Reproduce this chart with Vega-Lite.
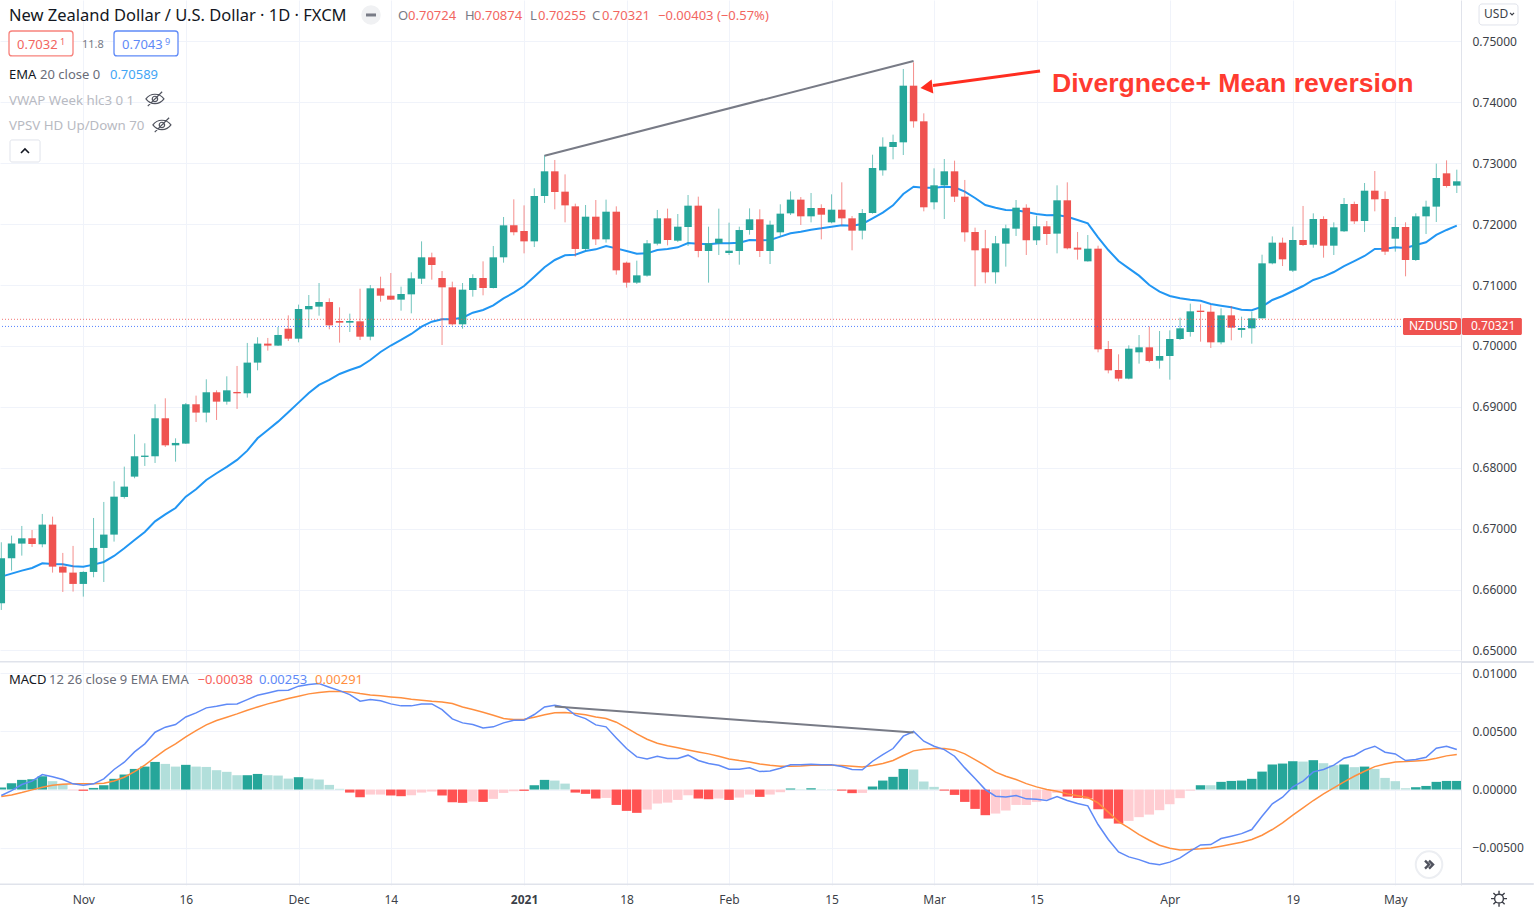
{"$schema":"https://vega.github.io/schema/vega-lite/v6.json","background":"white","padding":0,"spacing":0,
"config":{"view":{"stroke":null},"text":{"font":"Noto Sans","align":"left","baseline":"middle"}},
"datasets":{"bars":[
{"i":0,"open":0.65775,"high":0.66777,"low":0.65666,"close":0.66514,"ema":0.66213,"hist":0.00017,"shade":"gs","macd":-0.00051,"signal":-0.0006},
{"i":1,"open":0.66514,"high":0.66886,"low":0.66312,"close":0.66755,"ema":0.66262,"hist":0.00054,"shade":"gs","macd":-0.00009,"signal":-0.00046},
{"i":2,"open":0.66755,"high":0.67045,"low":0.66558,"close":0.66842,"ema":0.66312,"hist":0.00083,"shade":"gs","macd":0.00043,"signal":-0.00026},
{"i":3,"open":0.66842,"high":0.66979,"low":0.667,"close":0.66749,"ema":0.66355,"hist":0.00089,"shade":"gs","macd":0.00072,"signal":-0.00003},
{"i":4,"open":0.66744,"high":0.67242,"low":0.66695,"close":0.67067,"ema":0.66432,"hist":0.00114,"shade":"gs","macd":0.00129,"signal":0.0002},
{"i":5,"open":0.67067,"high":0.67198,"low":0.66279,"close":0.66377,"ema":0.66421,"hist":0.00072,"shade":"gf","macd":0.00109,"signal":0.00037},
{"i":6,"open":0.66377,"high":0.66602,"low":0.65961,"close":0.66279,"ema":0.66416,"hist":0.00049,"shade":"gf","macd":0.00086,"signal":0.00046},
{"i":7,"open":0.66279,"high":0.66717,"low":0.65967,"close":0.66093,"ema":0.66383,"hist":-0.00006,"shade":"rf","macd":0.00049,"signal":0.00049},
{"i":8,"open":0.66093,"high":0.663,"low":0.65885,"close":0.6629,"ema":0.66377,"hist":-0.00011,"shade":"rs","macd":0.00037,"signal":0.00049},
{"i":9,"open":0.6629,"high":0.67176,"low":0.66202,"close":0.66684,"ema":0.6641,"hist":0.00014,"shade":"gs","macd":0.00049,"signal":0.00049},
{"i":10,"open":0.66684,"high":0.67439,"low":0.66125,"close":0.66903,"ema":0.66454,"hist":0.00037,"shade":"gs","macd":0.00092,"signal":0.00054},
{"i":11,"open":0.66903,"high":0.67778,"low":0.66788,"close":0.67526,"ema":0.66552,"hist":0.00092,"shade":"gs","macd":0.00172,"signal":0.00074},
{"i":12,"open":0.67521,"high":0.68019,"low":0.67494,"close":0.67691,"ema":0.66678,"hist":0.00129,"shade":"gs","macd":0.00235,"signal":0.00106},
{"i":13,"open":0.67855,"high":0.6855,"low":0.67828,"close":0.68189,"ema":0.66815,"hist":0.00177,"shade":"gs","macd":0.00323,"signal":0.00154},
{"i":14,"open":0.68178,"high":0.68402,"low":0.6803,"close":0.682,"ema":0.66946,"hist":0.00197,"shade":"gs","macd":0.00392,"signal":0.00209},
{"i":15,"open":0.68189,"high":0.69043,"low":0.68079,"close":0.68813,"ema":0.67121,"hist":0.00237,"shade":"gs","macd":0.00492,"signal":0.00277},
{"i":16,"open":0.68813,"high":0.69141,"low":0.68342,"close":0.68369,"ema":0.67236,"hist":0.0022,"shade":"gf","macd":0.00535,"signal":0.0034},
{"i":17,"open":0.68369,"high":0.68484,"low":0.68101,"close":0.68408,"ema":0.6734,"hist":0.00197,"shade":"gf","macd":0.00558,"signal":0.00392},
{"i":18,"open":0.68397,"high":0.69064,"low":0.68391,"close":0.69043,"ema":0.67526,"hist":0.00212,"shade":"gs","macd":0.00623,"signal":0.00452},
{"i":19,"open":0.69043,"high":0.69185,"low":0.68752,"close":0.68906,"ema":0.67647,"hist":0.00197,"shade":"gf","macd":0.00658,"signal":0.00506},
{"i":20,"open":0.68906,"high":0.69453,"low":0.68747,"close":0.6924,"ema":0.678,"hist":0.00194,"shade":"gf","macd":0.00701,"signal":0.00555},
{"i":21,"open":0.6924,"high":0.69272,"low":0.68785,"close":0.69086,"ema":0.6791,"hist":0.00166,"shade":"gf","macd":0.00715,"signal":0.00592},
{"i":22,"open":0.69086,"high":0.69502,"low":0.69037,"close":0.69272,"ema":0.68014,"hist":0.00152,"shade":"gf","macd":0.00732,"signal":0.00621},
{"i":23,"open":0.69245,"high":0.69672,"low":0.68966,"close":0.69223,"ema":0.68129,"hist":0.00123,"shade":"gf","macd":0.00735,"signal":0.00649},
{"i":24,"open":0.69223,"high":0.7005,"low":0.69152,"close":0.69727,"ema":0.68282,"hist":0.00123,"shade":"gs","macd":0.00772,"signal":0.00681},
{"i":25,"open":0.69727,"high":0.70143,"low":0.69601,"close":0.70039,"ema":0.68484,"hist":0.00134,"shade":"gs","macd":0.00809,"signal":0.00709},
{"i":26,"open":0.70039,"high":0.70132,"low":0.69924,"close":0.70006,"ema":0.68621,"hist":0.00123,"shade":"gf","macd":0.00829,"signal":0.00735},
{"i":27,"open":0.70006,"high":0.70312,"low":0.7,"close":0.70181,"ema":0.68758,"hist":0.0012,"shade":"gf","macd":0.00849,"signal":0.00758},
{"i":28,"open":0.70284,"high":0.70503,"low":0.70082,"close":0.7012,"ema":0.68911,"hist":0.00094,"shade":"gf","macd":0.00852,"signal":0.00781},
{"i":29,"open":0.7012,"high":0.70679,"low":0.7006,"close":0.70607,"ema":0.6907,"hist":0.00106,"shade":"gs","macd":0.00887,"signal":0.00801},
{"i":30,"open":0.70602,"high":0.70837,"low":0.70306,"close":0.70657,"ema":0.69228,"hist":0.00094,"shade":"gf","macd":0.00901,"signal":0.00821},
{"i":31,"open":0.70646,"high":0.71034,"low":0.70498,"close":0.70722,"ema":0.6936,"hist":0.00086,"shade":"gf","macd":0.00909,"signal":0.00832},
{"i":32,"open":0.70722,"high":0.70783,"low":0.70274,"close":0.70339,"ema":0.69442,"hist":0.0004,"shade":"gf","macd":0.00878,"signal":0.00841},
{"i":33,"open":0.7041,"high":0.70635,"low":0.70055,"close":0.70383,"ema":0.6954,"hist":0.00006,"shade":"gf","macd":0.00849,"signal":0.00841},
{"i":34,"open":0.70383,"high":0.70531,"low":0.7023,"close":0.7041,"ema":0.69606,"hist":-0.00026,"shade":"rs","macd":0.00815,"signal":0.00838},
{"i":35,"open":0.70405,"high":0.70941,"low":0.70098,"close":0.70153,"ema":0.69663,"hist":-0.00066,"shade":"rs","macd":0.00758,"signal":0.00824},
{"i":36,"open":0.70153,"high":0.71001,"low":0.70093,"close":0.70947,"ema":0.6977,"hist":-0.00043,"shade":"rf","macd":0.00772,"signal":0.00812},
{"i":37,"open":0.70947,"high":0.71138,"low":0.70728,"close":0.70826,"ema":0.69901,"hist":-0.00043,"shade":"rf","macd":0.00761,"signal":0.00804},
{"i":38,"open":0.70826,"high":0.71198,"low":0.70755,"close":0.70761,"ema":0.70008,"hist":-0.00051,"shade":"rs","macd":0.00735,"signal":0.00795},
{"i":39,"open":0.70761,"high":0.70974,"low":0.7058,"close":0.70854,"ema":0.70099,"hist":-0.00057,"shade":"rs","macd":0.00718,"signal":0.00787},
{"i":40,"open":0.70848,"high":0.71209,"low":0.70536,"close":0.71111,"ema":0.70197,"hist":-0.00049,"shade":"rf","macd":0.00718,"signal":0.00775},
{"i":41,"open":0.71105,"high":0.71718,"low":0.71018,"close":0.71456,"ema":0.70317,"hist":-0.00026,"shade":"rf","macd":0.00735,"signal":0.00766},
{"i":42,"open":0.71456,"high":0.71532,"low":0.71089,"close":0.7133,"ema":0.70399,"hist":-0.00017,"shade":"rf","macd":0.00735,"signal":0.00758},
{"i":43,"open":0.71116,"high":0.71231,"low":0.70016,"close":0.70963,"ema":0.70438,"hist":-0.00051,"shade":"rs","macd":0.00686,"signal":0.00752},
{"i":44,"open":0.70963,"high":0.71056,"low":0.70334,"close":0.70356,"ema":0.70438,"hist":-0.00109,"shade":"rs","macd":0.00606,"signal":0.00738},
{"i":45,"open":0.70356,"high":0.71034,"low":0.70284,"close":0.70925,"ema":0.70465,"hist":-0.00114,"shade":"rs","macd":0.00572,"signal":0.00709},
{"i":46,"open":0.70919,"high":0.71177,"low":0.7081,"close":0.71116,"ema":0.70547,"hist":-0.00103,"shade":"rf","macd":0.00558,"signal":0.00686},
{"i":47,"open":0.71116,"high":0.7139,"low":0.70832,"close":0.70952,"ema":0.70591,"hist":-0.00106,"shade":"rs","macd":0.00529,"signal":0.00664},
{"i":48,"open":0.70952,"high":0.71642,"low":0.70945,"close":0.71456,"ema":0.70668,"hist":-0.0008,"shade":"rf","macd":0.00538,"signal":0.00638},
{"i":49,"open":0.71456,"high":0.72118,"low":0.71368,"close":0.71981,"ema":0.70783,"hist":-0.00029,"shade":"rf","macd":0.00572,"signal":0.00609},
{"i":50,"open":0.71981,"high":0.72408,"low":0.71817,"close":0.71866,"ema":0.70875,"hist":-0.00014,"shade":"rf","macd":0.00595,"signal":0.00601},
{"i":51,"open":0.71888,"high":0.72309,"low":0.71521,"close":0.71718,"ema":0.70985,"hist":-0.00011,"shade":"rs","macd":0.00595,"signal":0.00603},
{"i":52,"open":0.71718,"high":0.72589,"low":0.71625,"close":0.72463,"ema":0.71138,"hist":0.00037,"shade":"gs","macd":0.00644,"signal":0.00621},
{"i":53,"open":0.72463,"high":0.73136,"low":0.72348,"close":0.72868,"ema":0.71292,"hist":0.00083,"shade":"gs","macd":0.00709,"signal":0.00641},
{"i":54,"open":0.72868,"high":0.73054,"low":0.72244,"close":0.72528,"ema":0.71412,"hist":0.00077,"shade":"gf","macd":0.00724,"signal":0.00658},
{"i":55,"open":0.72534,"high":0.72818,"low":0.7203,"close":0.72309,"ema":0.71489,"hist":0.00051,"shade":"gf","macd":0.00706,"signal":0.00661},
{"i":56,"open":0.72293,"high":0.72337,"low":0.71467,"close":0.71593,"ema":0.71499,"hist":-0.00026,"shade":"rs","macd":0.00638,"signal":0.00652},
{"i":57,"open":0.71593,"high":0.72315,"low":0.7156,"close":0.72123,"ema":0.7156,"hist":-0.00037,"shade":"rs","macd":0.00609,"signal":0.00641},
{"i":58,"open":0.72123,"high":0.72397,"low":0.71658,"close":0.71751,"ema":0.71587,"hist":-0.00077,"shade":"rs","macd":0.00555,"signal":0.00623},
{"i":59,"open":0.71751,"high":0.72403,"low":0.71697,"close":0.72205,"ema":0.71642,"hist":-0.00072,"shade":"rf","macd":0.00538,"signal":0.00609},
{"i":60,"open":0.72205,"high":0.72293,"low":0.71171,"close":0.71242,"ema":0.71603,"hist":-0.00132,"shade":"rs","macd":0.00443,"signal":0.00578},
{"i":61,"open":0.71368,"high":0.71385,"low":0.70958,"close":0.7104,"ema":0.7156,"hist":-0.00183,"shade":"rs","macd":0.00352,"signal":0.00529},
{"i":62,"open":0.7104,"high":0.71401,"low":0.71018,"close":0.7116,"ema":0.71516,"hist":-0.002,"shade":"rs","macd":0.0028,"signal":0.00478},
{"i":63,"open":0.71155,"high":0.7174,"low":0.71138,"close":0.71686,"ema":0.71521,"hist":-0.00172,"shade":"rf","macd":0.00263,"signal":0.00432},
{"i":64,"open":0.7168,"high":0.72233,"low":0.71653,"close":0.72096,"ema":0.71576,"hist":-0.0012,"shade":"rf","macd":0.00286,"signal":0.00398},
{"i":65,"open":0.72096,"high":0.72255,"low":0.71653,"close":0.7174,"ema":0.71593,"hist":-0.00112,"shade":"rf","macd":0.00266,"signal":0.00375},
{"i":66,"open":0.71729,"high":0.72167,"low":0.71707,"close":0.71959,"ema":0.7162,"hist":-0.00089,"shade":"rf","macd":0.00266,"signal":0.00358},
{"i":67,"open":0.71954,"high":0.72479,"low":0.71642,"close":0.72304,"ema":0.71691,"hist":-0.00049,"shade":"rf","macd":0.00295,"signal":0.0034},
{"i":68,"open":0.72304,"high":0.72452,"low":0.71456,"close":0.7156,"ema":0.7168,"hist":-0.00077,"shade":"rs","macd":0.00249,"signal":0.00323},
{"i":69,"open":0.7156,"high":0.71959,"low":0.7104,"close":0.71686,"ema":0.71669,"hist":-0.00083,"shade":"rs","macd":0.00223,"signal":0.00306},
{"i":70,"open":0.71686,"high":0.72255,"low":0.71494,"close":0.71762,"ema":0.71686,"hist":-0.00077,"shade":"rf","macd":0.00209,"signal":0.00286},
{"i":71,"open":0.71527,"high":0.72025,"low":0.71494,"close":0.71565,"ema":0.71686,"hist":-0.00089,"shade":"rs","macd":0.00174,"signal":0.00263},
{"i":72,"open":0.7156,"high":0.71959,"low":0.71335,"close":0.71904,"ema":0.71697,"hist":-0.00069,"shade":"rf","macd":0.00174,"signal":0.00249},
{"i":73,"open":0.71904,"high":0.7226,"low":0.71828,"close":0.7208,"ema":0.7174,"hist":-0.00043,"shade":"rf","macd":0.00186,"signal":0.00237},
{"i":74,"open":0.7208,"high":0.72244,"low":0.71461,"close":0.7156,"ema":0.71735,"hist":-0.00063,"shade":"rs","macd":0.00154,"signal":0.0022},
{"i":75,"open":0.7156,"high":0.72058,"low":0.71346,"close":0.71992,"ema":0.7174,"hist":-0.00043,"shade":"rf","macd":0.0016,"signal":0.00209},
{"i":76,"open":0.71866,"high":0.72326,"low":0.71795,"close":0.72173,"ema":0.71795,"hist":-0.00023,"shade":"rf","macd":0.00183,"signal":0.002},
{"i":77,"open":0.72178,"high":0.72539,"low":0.72151,"close":0.72403,"ema":0.7185,"hist":0.00009,"shade":"gs","macd":0.00212,"signal":0.002},
{"i":78,"open":0.72403,"high":0.72446,"low":0.71987,"close":0.72129,"ema":0.71877,"hist":0.00003,"shade":"gf","macd":0.00212,"signal":0.00203},
{"i":79,"open":0.72129,"high":0.72512,"low":0.7203,"close":0.72266,"ema":0.7191,"hist":0.00011,"shade":"gs","macd":0.00217,"signal":0.00209},
{"i":80,"open":0.72266,"high":0.72326,"low":0.71751,"close":0.72156,"ema":0.71932,"hist":0.00003,"shade":"gf","macd":0.00212,"signal":0.00209},
{"i":81,"open":0.7203,"high":0.7249,"low":0.72014,"close":0.72238,"ema":0.71959,"hist":0.00003,"shade":"gf","macd":0.00212,"signal":0.00209},
{"i":82,"open":0.72238,"high":0.72687,"low":0.71976,"close":0.72096,"ema":0.71981,"hist":-0.00009,"shade":"rs","macd":0.00197,"signal":0.00206},
{"i":83,"open":0.72096,"high":0.72134,"low":0.71571,"close":0.71894,"ema":0.71976,"hist":-0.00031,"shade":"rs","macd":0.00172,"signal":0.002},
{"i":84,"open":0.71894,"high":0.72249,"low":0.71751,"close":0.72184,"ema":0.72003,"hist":-0.00029,"shade":"rf","macd":0.00169,"signal":0.00194},
{"i":85,"open":0.72184,"high":0.73141,"low":0.72173,"close":0.72923,"ema":0.72096,"hist":0.00026,"shade":"gs","macd":0.00243,"signal":0.00206},
{"i":86,"open":0.72884,"high":0.73426,"low":0.72797,"close":0.73273,"ema":0.72189,"hist":0.00077,"shade":"gs","macd":0.003,"signal":0.00223},
{"i":87,"open":0.73267,"high":0.7347,"low":0.73065,"close":0.73349,"ema":0.7231,"hist":0.00109,"shade":"gs","macd":0.00352,"signal":0.00249},
{"i":88,"open":0.73344,"high":0.74548,"low":0.73136,"close":0.74274,"ema":0.72496,"hist":0.00177,"shade":"gs","macd":0.00458,"signal":0.00292},
{"i":89,"open":0.74274,"high":0.74657,"low":0.73585,"close":0.73689,"ema":0.72616,"hist":0.00172,"shade":"gf","macd":0.00498,"signal":0.00332},
{"i":90,"open":0.73689,"high":0.7382,"low":0.72211,"close":0.72277,"ema":0.726,"hist":0.00069,"shade":"gf","macd":0.00415,"signal":0.00346},
{"i":91,"open":0.72359,"high":0.72917,"low":0.72244,"close":0.72638,"ema":0.726,"hist":0.00023,"shade":"gf","macd":0.00372,"signal":0.00352},
{"i":92,"open":0.72638,"high":0.7307,"low":0.72085,"close":0.72868,"ema":0.72616,"hist":-0.00009,"shade":"rs","macd":0.00343,"signal":0.00352},
{"i":93,"open":0.72868,"high":0.73043,"low":0.72364,"close":0.72452,"ema":0.72605,"hist":-0.00046,"shade":"rs","macd":0.00286,"signal":0.0034},
{"i":94,"open":0.72452,"high":0.72726,"low":0.71713,"close":0.71866,"ema":0.72534,"hist":-0.00106,"shade":"rs","macd":0.00186,"signal":0.00306},
{"i":95,"open":0.71872,"high":0.71943,"low":0.7098,"close":0.71571,"ema":0.7243,"hist":-0.00166,"shade":"rs","macd":0.00094,"signal":0.00257},
{"i":96,"open":0.71604,"high":0.71905,"low":0.71029,"close":0.7121,"ema":0.72315,"hist":-0.0022,"shade":"rs","macd":0,"signal":0.00206},
{"i":97,"open":0.7121,"high":0.71806,"low":0.71024,"close":0.71686,"ema":0.72271,"hist":-0.00206,"shade":"rf","macd":-0.00057,"signal":0.00149},
{"i":98,"open":0.7168,"high":0.71992,"low":0.71303,"close":0.71932,"ema":0.72233,"hist":-0.0018,"shade":"rf","macd":-0.00063,"signal":0.00114},
{"i":99,"open":0.71926,"high":0.72397,"low":0.71806,"close":0.72271,"ema":0.72228,"hist":-0.00132,"shade":"rf","macd":-0.00051,"signal":0.00086},
{"i":100,"open":0.72271,"high":0.72326,"low":0.71494,"close":0.71735,"ema":0.722,"hist":-0.00132,"shade":"rf","macd":-0.0008,"signal":0.00051},
{"i":101,"open":0.71735,"high":0.7214,"low":0.71658,"close":0.71965,"ema":0.72167,"hist":-0.00106,"shade":"rf","macd":-0.00083,"signal":0.00023},
{"i":102,"open":0.71965,"high":0.72052,"low":0.71658,"close":0.71839,"ema":0.72145,"hist":-0.00083,"shade":"rf","macd":-0.00094,"signal":0},
{"i":103,"open":0.71845,"high":0.72638,"low":0.71521,"close":0.72392,"ema":0.72151,"hist":-0.00029,"shade":"rf","macd":-0.0006,"signal":-0.00014},
{"i":104,"open":0.72392,"high":0.72687,"low":0.71587,"close":0.71604,"ema":0.72123,"hist":-0.0006,"shade":"rs","macd":-0.00094,"signal":-0.00037},
{"i":105,"open":0.71615,"high":0.71872,"low":0.71418,"close":0.71582,"ema":0.72069,"hist":-0.00072,"shade":"rs","macd":-0.0012,"signal":-0.00054},
{"i":106,"open":0.7139,"high":0.71822,"low":0.71385,"close":0.71598,"ema":0.72014,"hist":-0.00077,"shade":"rs","macd":-0.0014,"signal":-0.00069},
{"i":107,"open":0.71598,"high":0.71647,"low":0.69896,"close":0.69945,"ema":0.71784,"hist":-0.00169,"shade":"rs","macd":-0.003,"signal":-0.00114},
{"i":108,"open":0.69951,"high":0.70082,"low":0.69551,"close":0.696,"ema":0.71576,"hist":-0.00249,"shade":"rs","macd":-0.00429,"signal":-0.00194},
{"i":109,"open":0.69606,"high":0.69863,"low":0.6942,"close":0.69464,"ema":0.71395,"hist":-0.00292,"shade":"rs","macd":-0.00535,"signal":-0.00275},
{"i":110,"open":0.69464,"high":0.70011,"low":0.69453,"close":0.69956,"ema":0.71275,"hist":-0.00269,"shade":"rf","macd":-0.00578,"signal":-0.00329},
{"i":111,"open":0.69896,"high":0.7018,"low":0.6971,"close":0.69978,"ema":0.71155,"hist":-0.00237,"shade":"rf","macd":-0.00601,"signal":-0.00386},
{"i":112,"open":0.69978,"high":0.70323,"low":0.69732,"close":0.69754,"ema":0.71001,"hist":-0.00215,"shade":"rf","macd":-0.00632,"signal":-0.00435},
{"i":113,"open":0.69759,"high":0.70246,"low":0.69628,"close":0.69836,"ema":0.70892,"hist":-0.00177,"shade":"rf","macd":-0.00646,"signal":-0.00478},
{"i":114,"open":0.69836,"high":0.70257,"low":0.69447,"close":0.70115,"ema":0.70821,"hist":-0.00126,"shade":"rf","macd":-0.00623,"signal":-0.00503},
{"i":115,"open":0.70115,"high":0.70465,"low":0.70098,"close":0.7029,"ema":0.70783,"hist":-0.00074,"shade":"rf","macd":-0.00586,"signal":-0.00518},
{"i":116,"open":0.7023,"high":0.70695,"low":0.70153,"close":0.70569,"ema":0.70761,"hist":-0.00009,"shade":"rf","macd":-0.00529,"signal":-0.00515},
{"i":117,"open":0.7058,"high":0.70684,"low":0.70071,"close":0.70558,"ema":0.70744,"hist":0.00037,"shade":"gs","macd":-0.00475,"signal":-0.00509},
{"i":118,"open":0.70563,"high":0.70673,"low":0.69967,"close":0.7006,"ema":0.7069,"hist":0.00037,"shade":"gf","macd":-0.00472,"signal":-0.00501},
{"i":119,"open":0.7006,"high":0.70618,"low":0.70027,"close":0.70503,"ema":0.70662,"hist":0.00066,"shade":"gs","macd":-0.0042,"signal":-0.00486},
{"i":120,"open":0.70503,"high":0.70657,"low":0.70093,"close":0.70301,"ema":0.70635,"hist":0.00074,"shade":"gs","macd":-0.004,"signal":-0.00469},
{"i":121,"open":0.70263,"high":0.70481,"low":0.70137,"close":0.70295,"ema":0.70596,"hist":0.00077,"shade":"gs","macd":-0.00378,"signal":-0.00452},
{"i":122,"open":0.7029,"high":0.70564,"low":0.70038,"close":0.70454,"ema":0.70586,"hist":0.00092,"shade":"gs","macd":-0.00343,"signal":-0.00429},
{"i":123,"open":0.70454,"high":0.71499,"low":0.70454,"close":0.71357,"ema":0.70646,"hist":0.00154,"shade":"gs","macd":-0.00229,"signal":-0.00392},
{"i":124,"open":0.71357,"high":0.718,"low":0.71341,"close":0.71697,"ema":0.70755,"hist":0.00215,"shade":"gs","macd":-0.00123,"signal":-0.00343},
{"i":125,"open":0.71697,"high":0.71779,"low":0.71313,"close":0.71423,"ema":0.70821,"hist":0.00223,"shade":"gs","macd":-0.00066,"signal":-0.00286},
{"i":126,"open":0.71237,"high":0.71959,"low":0.71215,"close":0.7174,"ema":0.70903,"hist":0.00243,"shade":"gs","macd":0.00023,"signal":-0.0022},
{"i":127,"open":0.7174,"high":0.72299,"low":0.71642,"close":0.71658,"ema":0.70985,"hist":0.0024,"shade":"gf","macd":0.00072,"signal":-0.00157},
{"i":128,"open":0.71664,"high":0.72178,"low":0.71614,"close":0.72085,"ema":0.71084,"hist":0.00252,"shade":"gs","macd":0.00152,"signal":-0.00094},
{"i":129,"open":0.72085,"high":0.72129,"low":0.7145,"close":0.71647,"ema":0.71138,"hist":0.00226,"shade":"gf","macd":0.00172,"signal":-0.00037},
{"i":130,"open":0.71647,"high":0.7203,"low":0.71494,"close":0.71948,"ema":0.71215,"hist":0.00209,"shade":"gf","macd":0.00209,"signal":0.00014},
{"i":131,"open":0.71883,"high":0.7243,"low":0.71872,"close":0.72331,"ema":0.71313,"hist":0.00215,"shade":"gs","macd":0.00269,"signal":0.00066},
{"i":132,"open":0.72331,"high":0.7237,"low":0.72003,"close":0.72047,"ema":0.71395,"hist":0.00192,"shade":"gf","macd":0.00292,"signal":0.00114},
{"i":133,"open":0.72052,"high":0.72676,"low":0.71872,"close":0.7255,"ema":0.71478,"hist":0.00197,"shade":"gs","macd":0.00343,"signal":0.00157},
{"i":134,"open":0.7255,"high":0.72873,"low":0.72211,"close":0.72408,"ema":0.71593,"hist":0.00177,"shade":"gf","macd":0.00372,"signal":0.00197},
{"i":135,"open":0.72414,"high":0.72539,"low":0.71494,"close":0.71549,"ema":0.71598,"hist":0.001,"shade":"gf","macd":0.0032,"signal":0.0022},
{"i":136,"open":0.71762,"high":0.72118,"low":0.71549,"close":0.71954,"ema":0.7162,"hist":0.00072,"shade":"gf","macd":0.00306,"signal":0.00237},
{"i":137,"open":0.71954,"high":0.72031,"low":0.71144,"close":0.71412,"ema":0.71609,"hist":0.00011,"shade":"gf","macd":0.00249,"signal":0.0024},
{"i":138,"open":0.71412,"high":0.72178,"low":0.71396,"close":0.72129,"ema":0.71658,"hist":0.0002,"shade":"gs","macd":0.00257,"signal":0.00246},
{"i":139,"open":0.72129,"high":0.72386,"low":0.71839,"close":0.72288,"ema":0.71702,"hist":0.00031,"shade":"gs","macd":0.00277,"signal":0.00252},
{"i":140,"open":0.72288,"high":0.72994,"low":0.72036,"close":0.72758,"ema":0.71823,"hist":0.00066,"shade":"gs","macd":0.00355,"signal":0.00269},
{"i":141,"open":0.72835,"high":0.73048,"low":0.726,"close":0.72627,"ema":0.71905,"hist":0.00074,"shade":"gs","macd":0.00372,"signal":0.00289},
{"i":142,"open":0.72633,"high":0.72895,"low":0.72512,"close":0.72704,"ema":0.71976,"hist":0.00074,"shade":"gs","macd":0.00343,"signal":0.003}
]},
"vconcat":[
{"width":1461,"height":660,"layer":[
{"data":{"name":"bars"},"mark":{"type":"line","clip":true,"color":"#2196f3","strokeWidth":2,"interpolate":"linear"},"encoding":{
 "x":{"field":"i","type":"quantitative","scale":{"domain":[-0.127,142.41],"nice":false,"zero":false,"padding":0},"axis":{"title":null,"values":[8,18,29,38,51,61,71,81,91,101,114,126,136],"labels":false,"ticks":false,"domain":false,"grid":true,"gridColor":"#f0f3fa","minExtent":0,"maxExtent":0}},
 "y":{"field":"ema","type":"quantitative","scale":{"domain":[0.64844,0.75681],"nice":false,"zero":false},"axis":{"title":null,"orient":"right","values":[0.65,0.66,0.67,0.68,0.69,0.7,0.71,0.72,0.73,0.74,0.75],"format":".5f","ticks":false,"domain":true,"domainColor":"#e0e3eb","domainWidth":1,"grid":true,"gridColor":"#f0f3fa","labelFont":"Noto Sans","labelFontSize":12,"labelColor":"#3c3f48","labelPadding":11,"labelAlign":"left","minExtent":75,"maxExtent":75}}}},
{"data":{"name":"bars"},"mark":{"type":"rule","clip":true,"strokeWidth":1,"opacity":0.65},"encoding":{"x":{"field":"i","type":"quantitative"},"y":{"field":"low","type":"quantitative"},"y2":{"field":"high"},"color":{"condition":{"test":"datum.close>=datum.open","value":"#26a69a"},"value":"#ef5350"}}},
{"data":{"name":"bars"},"mark":{"type":"bar","clip":true,"orient":"vertical","size":7.5},"encoding":{"x":{"field":"i","type":"quantitative"},"y":{"field":"open","type":"quantitative"},"y2":{"field":"close"},"color":{"condition":{"test":"datum.close>=datum.open","value":"#26a69a"},"value":"#ef5350"}}},
{"data":{"values":[{"level":0.70438}]},"mark":{"type":"rule","clip":true,"color":"#ef5350","strokeDash":[1,2],"strokeWidth":1,"opacity":0.8},"encoding":{"y":{"field":"level","type":"quantitative"}}},
{"data":{"values":[{"level":0.70321}]},"mark":{"type":"rule","clip":true,"color":"#2962ff","strokeDash":[1,2],"strokeWidth":1,"opacity":0.8},"encoding":{"y":{"field":"level","type":"quantitative"}}},
{"data":{"values":[{"i":53,"p":0.73124},{"i":89,"p":0.74679}]},"mark":{"type":"line","color":"#787b86","strokeWidth":2},"encoding":{"x":{"field":"i","type":"quantitative"},"y":{"field":"p","type":"quantitative"}}},
{"data":{"values":[{"i":101.34,"p":0.74516},{"i":90.9,"p":0.74277}]},"mark":{"type":"line","color":"#ff2d20","strokeWidth":3},"encoding":{"x":{"field":"i","type":"quantitative"},"y":{"field":"p","type":"quantitative"}}},
{"data":{"values":[{"i":90.26,"p":0.74248}]},"mark":{"type":"point","shape":"triangle-left","filled":true,"opacity":1,"size":196,"angle":-7,"color":"#ff2d20"},"encoding":{"x":{"field":"i","type":"quantitative"},"y":{"field":"p","type":"quantitative"}}},
{"data":{"values":[{"t":"Divergnece+ Mean reversion","i":102.51,"p":0.74299}]},"mark":{"type":"text","font":"Liberation Sans","fontWeight":"bold","fontSize":26.6,"color":"#ff3b30"},"encoding":{"x":{"field":"i","type":"quantitative"},"y":{"field":"p","type":"quantitative"},"text":{"field":"t"}}},
{"data":{"values":[{"t":"New Zealand Dollar / U.S. Dollar · 1D · FXCM","i":0.751,"p":0.7542}]},"mark":{"type":"text","fontSize":16.5,"color":"#131722"},"encoding":{"x":{"field":"i","type":"quantitative"},"y":{"field":"p","type":"quantitative"},"text":{"field":"t"}}},
{"data":{"values":[{"i":36.07,"p":0.75435}]},"mark":{"type":"point","shape":"circle","filled":true,"opacity":1,"size":380,"color":"#f0f1f3"},"encoding":{"x":{"field":"i","type":"quantitative"},"y":{"field":"p","type":"quantitative"}}},
{"data":{"values":[{"i":36.07,"p":0.75435}]},"mark":{"type":"point","shape":"M-1,0 L1,0","filled":false,"opacity":1,"size":100,"strokeWidth":3,"color":"#787b86"},"encoding":{"x":{"field":"i","type":"quantitative"},"y":{"field":"p","type":"quantitative"}}},
{"data":{"values":[{"t":"O","i":38.7,"p":0.7542},{"t":"H","i":45.24,"p":0.7542},{"t":"L","i":51.58,"p":0.7542},{"t":"C","i":57.63,"p":0.7542}]},"mark":{"type":"text","fontSize":13,"color":"#787b86"},"encoding":{"x":{"field":"i","type":"quantitative"},"y":{"field":"p","type":"quantitative"},"text":{"field":"t"}}},
{"data":{"values":[{"t":"0.70724","i":39.68,"p":0.7542},{"t":"0.70874","i":46.12,"p":0.7542},{"t":"0.70255","i":52.36,"p":0.7542},{"t":"0.70321","i":58.6,"p":0.7542},{"t":"−0.00403","i":64.07,"p":0.7542},{"t":"(−0.57%)","i":69.82,"p":0.7542}]},"mark":{"type":"text","fontSize":13,"color":"#f2665f"},"encoding":{"x":{"field":"i","type":"quantitative"},"y":{"field":"p","type":"quantitative"},"text":{"field":"t"}}},
{"data":{"values":[{"a":0.751,"b":6.995}]},"mark":{"type":"rect","fill":"white","stroke":"#f7827c","strokeWidth":1.3,"cornerRadius":3},"encoding":{"x":{"field":"a","type":"quantitative"},"x2":{"field":"b"},"y":{"datum":0.75172},"y2":{"datum":0.74762}}},
{"data":{"values":[{"a":10.995,"b":17.24}]},"mark":{"type":"rect","fill":"white","stroke":"#5f8af7","strokeWidth":1.3,"cornerRadius":3},"encoding":{"x":{"field":"a","type":"quantitative"},"x2":{"field":"b"},"y":{"datum":0.75172},"y2":{"datum":0.74762}}},
{"data":{"values":[{"t":"0.7032","i":1.53,"p":0.74943}]},"mark":{"type":"text","fontSize":13,"color":"#f2665f"},"encoding":{"x":{"field":"i","type":"quantitative"},"y":{"field":"p","type":"quantitative"},"text":{"field":"t"}}},
{"data":{"values":[{"t":"1","i":5.73,"p":0.74985}]},"mark":{"type":"text","fontSize":9,"color":"#f2665f"},"encoding":{"x":{"field":"i","type":"quantitative"},"y":{"field":"p","type":"quantitative"},"text":{"field":"t"}}},
{"data":{"values":[{"t":"0.7043","i":11.78,"p":0.74943}]},"mark":{"type":"text","fontSize":13,"color":"#5f8af7"},"encoding":{"x":{"field":"i","type":"quantitative"},"y":{"field":"p","type":"quantitative"},"text":{"field":"t"}}},
{"data":{"values":[{"t":"9","i":15.97,"p":0.74985}]},"mark":{"type":"text","fontSize":9,"color":"#5f8af7"},"encoding":{"x":{"field":"i","type":"quantitative"},"y":{"field":"p","type":"quantitative"},"text":{"field":"t"}}},
{"data":{"values":[{"t":"11.8","i":7.87,"p":0.74943}]},"mark":{"type":"text","fontSize":11,"color":"#787b86"},"encoding":{"x":{"field":"i","type":"quantitative"},"y":{"field":"p","type":"quantitative"},"text":{"field":"t"}}},
{"data":{"values":[{"t":"EMA","i":0.751,"p":0.7445}]},"mark":{"type":"text","fontSize":13,"color":"#131722"},"encoding":{"x":{"field":"i","type":"quantitative"},"y":{"field":"p","type":"quantitative"},"text":{"field":"t"}}},
{"data":{"values":[{"t":"20 close 0","i":3.78,"p":0.7445}]},"mark":{"type":"text","fontSize":13,"color":"#6a6d78"},"encoding":{"x":{"field":"i","type":"quantitative"},"y":{"field":"p","type":"quantitative"},"text":{"field":"t"}}},
{"data":{"values":[{"t":"0.70589","i":10.6,"p":0.7445}]},"mark":{"type":"text","fontSize":13,"color":"#42a5f5"},"encoding":{"x":{"field":"i","type":"quantitative"},"y":{"field":"p","type":"quantitative"},"text":{"field":"t"}}},
{"data":{"values":[{"t":"VWAP Week hlc3 0 1","i":0.751,"p":0.74023},{"t":"VPSV HD Up/Down 70","i":0.751,"p":0.73613}]},"mark":{"type":"text","fontSize":13.3,"color":"#b8bac2"},"encoding":{"x":{"field":"i","type":"quantitative"},"y":{"field":"p","type":"quantitative"},"text":{"field":"t"}}},
{"data":{"values":[{"i":14.99,"p":0.74056},{"i":15.67,"p":0.73629}]},"mark":{"type":"point","shape":"M-1,0 C-0.5,-0.7 0.5,-0.7 1,0 C0.5,0.7 -0.5,0.7 -1,0 Z M0.8,-0.8 L-0.8,0.8 M-0.3,0 A0.3,0.3 0 1 1 0.3,0 A0.3,0.3 0 1 1 -0.3,0 Z","filled":false,"opacity":1,"size":324,"strokeWidth":1.2,"color":"#50535e"},"encoding":{"x":{"field":"i","type":"quantitative"},"y":{"field":"p","type":"quantitative"}}},
{"data":{"values":[{"a":0.85,"b":3.78}]},"mark":{"type":"rect","fill":"white","stroke":"#e0e3eb","strokeWidth":1,"cornerRadius":2},"encoding":{"x":{"field":"a","type":"quantitative"},"x2":{"field":"b"},"y":{"datum":0.73383},"y2":{"datum":0.73021}}},
{"data":{"values":[{"i":2.31,"p":0.73202}]},"mark":{"type":"point","shape":"M-1,0.5 L0,-0.5 L1,0.5","filled":false,"opacity":1,"size":64,"strokeWidth":1.6,"color":"#131722"},"encoding":{"x":{"field":"i","type":"quantitative"},"y":{"field":"p","type":"quantitative"}}},
{"data":{"values":[{"a":144.17,"b":147.97}]},"mark":{"type":"rect","fill":"white","stroke":"#e0e3eb","strokeWidth":1,"cornerRadius":3},"encoding":{"x":{"field":"a","type":"quantitative"},"x2":{"field":"b"},"y":{"datum":0.75616},"y2":{"datum":0.75271}}},
{"data":{"values":[{"t":"USD","i":144.66,"p":0.75452}]},"mark":{"type":"text","fontSize":12,"color":"#3c3f48"},"encoding":{"x":{"field":"i","type":"quantitative"},"y":{"field":"p","type":"quantitative"},"text":{"field":"t"}}},
{"data":{"values":[{"i":147.39,"p":0.75452}]},"mark":{"type":"point","shape":"M-1,-0.5 L0,0.5 L1,-0.5","filled":false,"opacity":1,"size":16,"strokeWidth":1.2,"color":"#3c3f48"},"encoding":{"x":{"field":"i","type":"quantitative"},"y":{"field":"p","type":"quantitative"}}},
{"data":{"values":[{"a":136.75,"b":142.41},{"a":142.5,"b":148.35}]},"mark":{"type":"rect","fill":"#ef5350","cornerRadius":1.5},"encoding":{"x":{"field":"a","type":"quantitative"},"x2":{"field":"b"},"y":{"datum":0.7046},"y2":{"datum":0.70181}}},
{"data":{"values":[{"t":"NZDUSD","i":137.33,"p":0.7032},{"t":"0.70321","i":143.38,"p":0.7032}]},"mark":{"type":"text","fontSize":12,"color":"#ffffff"},"encoding":{"x":{"field":"i","type":"quantitative"},"y":{"field":"p","type":"quantitative"},"text":{"field":"t"}}}
]},
{"width":1461,"height":224,"layer":[
{"data":{"name":"bars"},"mark":{"type":"bar","clip":true,"orient":"vertical","size":9.5},"encoding":{
 "x":{"field":"i","type":"quantitative","scale":{"domain":[-0.127,142.41],"nice":false,"zero":false,"padding":0},"axis":{"title":null,"values":[8,18,29,38,51,61,71,81,91,101,114,126,136],"labelExpr":"['Nov','16','Dec','14','2021','18','Feb','15','Mar','15','Apr','19','May'][indexof([8,18,29,38,51,61,71,81,91,101,114,126,136],datum.value)]","ticks":false,"domain":false,"grid":true,"gridColor":"#f0f3fa","labelFont":"Noto Sans","labelFontSize":12,"labelColor":"#3c3f48","labelPadding":9,"labelFontWeight":{"condition":{"test":"datum.value==51","value":"bold"},"value":"normal"},"minExtent":25,"maxExtent":25}},
 "y":{"field":"hist","type":"quantitative","stack":null,"scale":{"domain":[-0.00819,0.01103],"nice":false,"zero":false},"axis":{"title":null,"orient":"right","values":[-0.005,0,0.005,0.01],"format":".5f","ticks":false,"domain":true,"domainColor":"#e0e3eb","domainWidth":1,"grid":true,"gridColor":"#f0f3fa","labelFont":"Noto Sans","labelFontSize":12,"labelColor":"#3c3f48","labelPadding":11,"labelAlign":"left","minExtent":75,"maxExtent":75}},
 "y2":{"datum":0},
 "color":{"field":"shade","type":"nominal","legend":null,"scale":{"domain":["gs","gf","rs","rf"],"range":["#26a69a","#b2dfdb","#ff5252","#ffcdd2"]}}}},
{"data":{"name":"bars"},"mark":{"type":"line","clip":true,"color":"#ff8f3f","strokeWidth":1.5},"encoding":{"x":{"field":"i","type":"quantitative"},"y":{"field":"signal","type":"quantitative"}}},
{"data":{"name":"bars"},"mark":{"type":"line","clip":true,"color":"#5f8af7","strokeWidth":1.5},"encoding":{"x":{"field":"i","type":"quantitative"},"y":{"field":"macd","type":"quantitative"}}},
{"data":{"values":[{"i":54,"p":0.00712},{"i":89,"p":0.00489}]},"mark":{"type":"line","color":"#787b86","strokeWidth":2},"encoding":{"x":{"field":"i","type":"quantitative"},"y":{"field":"p","type":"quantitative"}}},
{"data":{"values":[{"a":-0.127,"b":142.41}]},"mark":{"type":"rule","clip":true,"color":"#e0e3eb","strokeWidth":2},"encoding":{"x":{"field":"a","type":"quantitative"},"x2":{"field":"b"},"y":{"datum":0.01099}}},
{"data":{"values":[{"a":-0.127,"b":142.41}]},"mark":{"type":"rule","clip":true,"color":"#e0e3eb","strokeWidth":2},"encoding":{"x":{"field":"a","type":"quantitative"},"x2":{"field":"b"},"y":{"datum":-0.00815}}},
{"data":{"values":[{"a":142.41,"b":149.51}]},"mark":{"type":"rule","color":"#e0e3eb","strokeWidth":2},"encoding":{"x":{"field":"a","type":"quantitative"},"x2":{"field":"b"},"y":{"datum":0.01095}}},
{"data":{"values":[{"a":142.41,"b":149.51}]},"mark":{"type":"rule","color":"#e0e3eb","strokeWidth":2},"encoding":{"x":{"field":"a","type":"quantitative"},"x2":{"field":"b"},"y":{"datum":-0.00811}}},
{"data":{"values":[{"t":"MACD","i":0.751,"p":0.0094}]},"mark":{"type":"text","fontSize":13,"color":"#131722"},"encoding":{"x":{"field":"i","type":"quantitative"},"y":{"field":"p","type":"quantitative"},"text":{"field":"t"}}},
{"data":{"values":[{"t":"12 26 close 9 EMA EMA","i":4.65,"p":0.0094}]},"mark":{"type":"text","fontSize":13,"color":"#6a6d78"},"encoding":{"x":{"field":"i","type":"quantitative"},"y":{"field":"p","type":"quantitative"},"text":{"field":"t"}}},
{"data":{"values":[{"t":"−0.00038","i":19.14,"p":0.0094}]},"mark":{"type":"text","fontSize":13,"color":"#f7635c"},"encoding":{"x":{"field":"i","type":"quantitative"},"y":{"field":"p","type":"quantitative"},"text":{"field":"t"}}},
{"data":{"values":[{"t":"0.00253","i":25.14,"p":0.0094}]},"mark":{"type":"text","fontSize":13,"color":"#5f8af7"},"encoding":{"x":{"field":"i","type":"quantitative"},"y":{"field":"p","type":"quantitative"},"text":{"field":"t"}}},
{"data":{"values":[{"t":"0.00291","i":30.6,"p":0.0094}]},"mark":{"type":"text","fontSize":13,"color":"#ff8f3f"},"encoding":{"x":{"field":"i","type":"quantitative"},"y":{"field":"p","type":"quantitative"},"text":{"field":"t"}}},
{"data":{"values":[{"i":139.29,"p":-0.00644}]},"mark":{"type":"point","shape":"circle","filled":true,"opacity":1,"size":707,"color":"#ffffff","stroke":"#eceef2","strokeWidth":2},"encoding":{"x":{"field":"i","type":"quantitative"},"y":{"field":"p","type":"quantitative"}}},
{"data":{"values":[{"i":139.29,"p":-0.00644}]},"mark":{"type":"point","shape":"M-1,-1 L0,0 L-1,1 M0,-1 L1,0 L0,1","filled":false,"opacity":1,"size":64,"strokeWidth":2.4,"color":"#50535e"},"encoding":{"x":{"field":"i","type":"quantitative"},"y":{"field":"p","type":"quantitative"}}},
{"data":{"values":[{"i":146.12,"p":-0.00936}]},"mark":{"type":"point","shape":"M-0.55,0 A0.55,0.55 0 1 1 0.55,0 A0.55,0.55 0 1 1 -0.55,0 Z M0,-1 L0,-0.55 M0,1 L0,0.55 M-1,0 L-0.55,0 M1,0 L0.55,0 M-0.7,-0.7 L-0.39,-0.39 M0.7,-0.7 L0.39,-0.39 M-0.7,0.7 L-0.39,0.39 M0.7,0.7 L0.39,0.39","filled":false,"opacity":1,"size":256,"strokeWidth":1.4,"color":"#3c3f48"},"encoding":{"x":{"field":"i","type":"quantitative"},"y":{"field":"p","type":"quantitative"}}}
]}
]}
